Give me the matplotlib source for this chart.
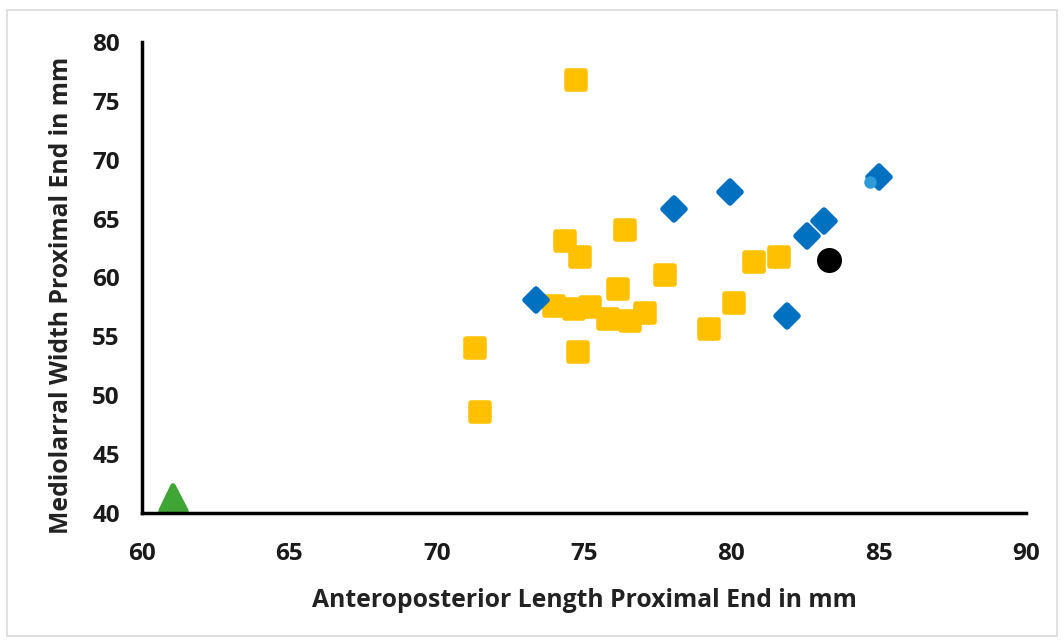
import matplotlib.pyplot as plt
from matplotlib.markers import MarkerStyle
from matplotlib.patches import Rectangle

# Yellow squares
yellow_x = [74.73, 74.35, 74.87, 76.4, 77.76, 76.15, 73.98, 74.66, 75.2, 75.8,
            76.56, 77.07, 79.25, 80.1, 80.78, 81.6, 71.3, 74.8, 71.46]
yellow_y = [76.8, 63.1, 61.7, 64.0, 60.2, 59.0, 57.6, 57.3, 57.5, 56.5,
            56.3, 57.0, 55.6, 57.8, 61.3, 61.7, 54.0, 53.7, 48.6]

# Blue diamonds
blue_x = [73.37, 81.9, 78.06, 79.97, 82.58, 83.16, 85.0]
blue_y = [58.1, 56.75, 65.85, 67.3, 63.5, 64.8, 68.5]

# Light blue point
light_x = [84.7]
light_y = [68.1]

# Black circle
black_x = [83.3]
black_y = [61.5]

# Green triangle
green_x = [61.05]
green_y = [41.3]

x_ticks = [60, 65, 70, 75, 80, 85, 90]
y_ticks = [40, 45, 50, 55, 60, 65, 70, 75, 80]

plt.rcParams['font.family'] = ['Open Sans', 'DejaVu Sans']

fig = plt.figure(figsize=(10.64, 6.44), dpi=100)
fig.patches.append(Rectangle((0.007, 0.013), 0.986, 0.972, transform=fig.transFigure,
                             fill=False, edgecolor='#d9d9d9', linewidth=1.2))
ax = fig.add_axes([0.1335, 0.2034, 0.8308, 0.7314])

sq = MarkerStyle('s', joinstyle='round')
dm = MarkerStyle('D', joinstyle='round')
tr = MarkerStyle('^', joinstyle='round')

ax.plot(yellow_x, yellow_y, linestyle='none', marker=sq, markersize=13.5,
        color='#ffc000', markeredgecolor='#ffc000', markeredgewidth=4, clip_on=False)
ax.plot(blue_x, blue_y, linestyle='none', marker=dm, markersize=11,
        color='#0070c0', markeredgecolor='#0070c0', markeredgewidth=4, clip_on=False)
ax.plot(light_x, light_y, linestyle='none', marker='o', markersize=8,
        color='#2e9ad8', clip_on=False)
ax.plot(black_x, black_y, linestyle='none', marker='o', markersize=17,
        color='black', clip_on=False)
ax.plot(green_x, green_y, linestyle='none', marker=tr, markersize=18,
        color='#3fa535', markeredgecolor='#3fa535', markeredgewidth=4, clip_on=False)

ax.set_xlim(60, 90)
ax.set_ylim(40, 80)
ax.set_xticks(x_ticks)
ax.set_yticks(y_ticks)
ax.tick_params(length=0, labelsize=17.5, labelcolor='#1a1a1a')
ax.tick_params(axis='y', pad=16)
ax.tick_params(axis='x', pad=21)
for lbl in ax.get_xticklabels() + ax.get_yticklabels():
    lbl.set_fontweight('bold')

ax.spines['top'].set_visible(False)
ax.spines['right'].set_visible(False)
ax.spines['left'].set_linewidth(2.5)
ax.spines['bottom'].set_linewidth(2.5)

ax.set_xlabel('Anteroposterior Length Proximal End in mm', fontsize=17.8,
              fontweight='bold', labelpad=16, color='#222222')
ax.set_ylabel('Mediolarral Width Proximal End in mm', fontsize=17.8,
              fontweight='bold', color='#222222')
ax.yaxis.set_label_coords(-0.077, 0.463)

fig.savefig('out.png', dpi=100)
